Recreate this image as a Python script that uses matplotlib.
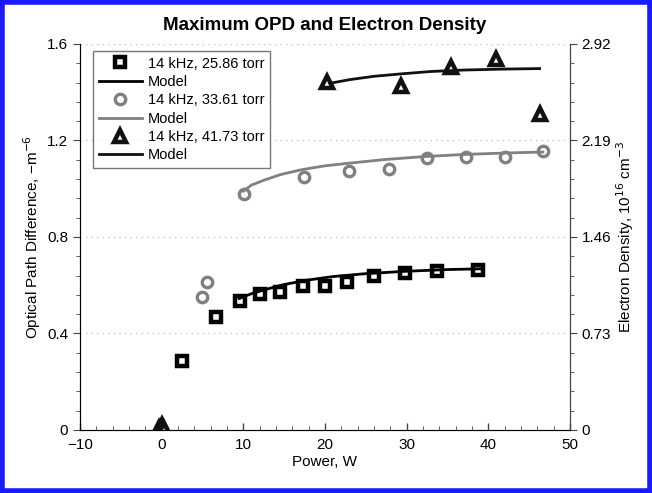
import matplotlib.pyplot as plt
from matplotlib.patches import Rectangle
from matplotlib.ticker import AutoMinorLocator

# measured points, 14 kHz
p_258 = [2.45, 6.7, 9.6, 12.0, 14.5, 17.3, 20.0, 22.7, 26.0, 29.8, 33.7, 38.7]
opd_258 = [0.287, 0.47, 0.536, 0.564, 0.574, 0.595, 0.597, 0.615, 0.639, 0.65, 0.66, 0.665]

p_336 = [5.0, 5.6, 10.1, 17.4, 23.0, 27.9, 32.5, 37.3, 42.1, 46.7]
opd_336 = [0.553, 0.615, 0.98, 1.048, 1.072, 1.081, 1.127, 1.131, 1.131, 1.155]

p_417 = [-0.3, 0.0, 0.3, 20.3, 29.3, 35.5, 40.9, 46.4]
opd_417 = [0.01, 0.02, 0.005, 1.441, 1.425, 1.505, 1.538, 1.311]

# model curves
mp_258 = [9.5, 11, 13, 15, 18, 21, 25, 30, 35, 39]
mo_258 = [0.545, 0.565, 0.585, 0.603, 0.622, 0.636, 0.648, 0.658, 0.665, 0.668]
mp_336 = [10, 11, 12.5, 14.5, 17, 20, 23, 27, 32, 37, 42, 46.7]
mo_336 = [0.99, 1.015, 1.035, 1.058, 1.078, 1.095, 1.106, 1.12, 1.133, 1.142, 1.148, 1.152]
mp_417 = [20.6, 23, 26, 29.3, 33, 37, 42, 46.3]
mo_417 = [1.437, 1.452, 1.466, 1.476, 1.486, 1.492, 1.496, 1.498]

left_ticks = [0, 0.4, 0.8, 1.2, 1.6]
right_labels = ['0', '0.73', '1.46', '2.19', '2.92']

plt.rcParams['font.family'] = ['Liberation Sans', 'DejaVu Sans']

fig = plt.figure(figsize=(6.52, 4.93), dpi=100)
ax = fig.add_axes([0.1227, 0.1278, 0.7513, 0.783])

gray = '#808080'
ax.plot(p_258, opd_258, 's', ms=6.5, mfc='white', mec='black', mew=3.2, ls='none',
        label='14 kHz, 25.86 torr')
ax.plot(mp_258, mo_258, color='black', lw=2, label='Model')
ax.plot(p_336, opd_336, 'o', ms=7.5, mfc='white', mec=gray, mew=2.4, ls='none',
        label='14 kHz, 33.61 torr')
ax.plot(mp_336, mo_336, color=gray, lw=2, label='Model')
ax.plot(p_417, opd_417, '^', ms=8.5, mfc='white', mec='#111111', mew=3.2, ls='none',
        label='14 kHz, 41.73 torr')
ax.plot(mp_417, mo_417, color='#111111', lw=2, label='Model')

ax.set_xlim(-10, 50)
ax.set_ylim(0, 1.6)
ax.set_yticks(left_ticks)
ax.set_yticklabels(['0', '0.4', '0.8', '1.2', '1.6'])
ax.xaxis.set_minor_locator(AutoMinorLocator(5))
ax.yaxis.set_minor_locator(AutoMinorLocator(5))
for y in left_ticks[1:]:
    ax.axhline(y, color='#c4c4c4', ls=(0, (1, 3)), lw=1, zorder=0)

ax.spines['top'].set_visible(False)
for s in ['left', 'right', 'bottom']:
    ax.spines[s].set_color('#444444')
ax.tick_params(axis='x', direction='in', length=5, width=1, labelsize=11, pad=6, color='#444444')
ax.tick_params(axis='x', which='minor', direction='in', length=3, color='#444444')
ax.tick_params(axis='y', direction='out', length=5, labelsize=11, color='#444444')
ax.tick_params(axis='y', which='minor', direction='out', length=3, color='#444444')

ax.set_xlabel('Power, W', fontsize=11, labelpad=2)
ax.set_ylabel('Optical Path Difference, \u2212m$^{-6}$', fontsize=11, labelpad=3)
ax.set_title('Maximum OPD and Electron Density', fontsize=13.5, fontweight='bold', pad=10)

ax2 = ax.twinx()
ax2.set_ylim(0, 1.6)
ax2.set_yticks(left_ticks)
ax2.set_yticklabels(right_labels)
ax2.yaxis.set_minor_locator(AutoMinorLocator(5))
ax2.spines['top'].set_visible(False)
ax2.spines['right'].set_color('#444444')
ax2.tick_params(axis='y', direction='out', length=5, labelsize=11, color='#444444')
ax2.tick_params(axis='y', which='minor', direction='out', length=3, color='#444444')
ax2.set_ylabel('Electron Density, 10$^{16}$ cm$^{-3}$', fontsize=11, labelpad=2)

leg = ax.legend(loc='upper left', bbox_to_anchor=(0.02, 0.99), fontsize=10.5,
                frameon=True, fancybox=False, edgecolor='#555555', labelspacing=0.3,
                handlelength=3.0, handletextpad=0.4, borderpad=0.4, borderaxespad=0.2)
leg.get_frame().set_linewidth(1)

fig.patches.append(Rectangle((0.003, 0.004), 0.994, 0.992, transform=fig.transFigure,
                             fill=False, edgecolor='#1a1aff', lw=4))

fig.savefig('out.png', dpi=100)
